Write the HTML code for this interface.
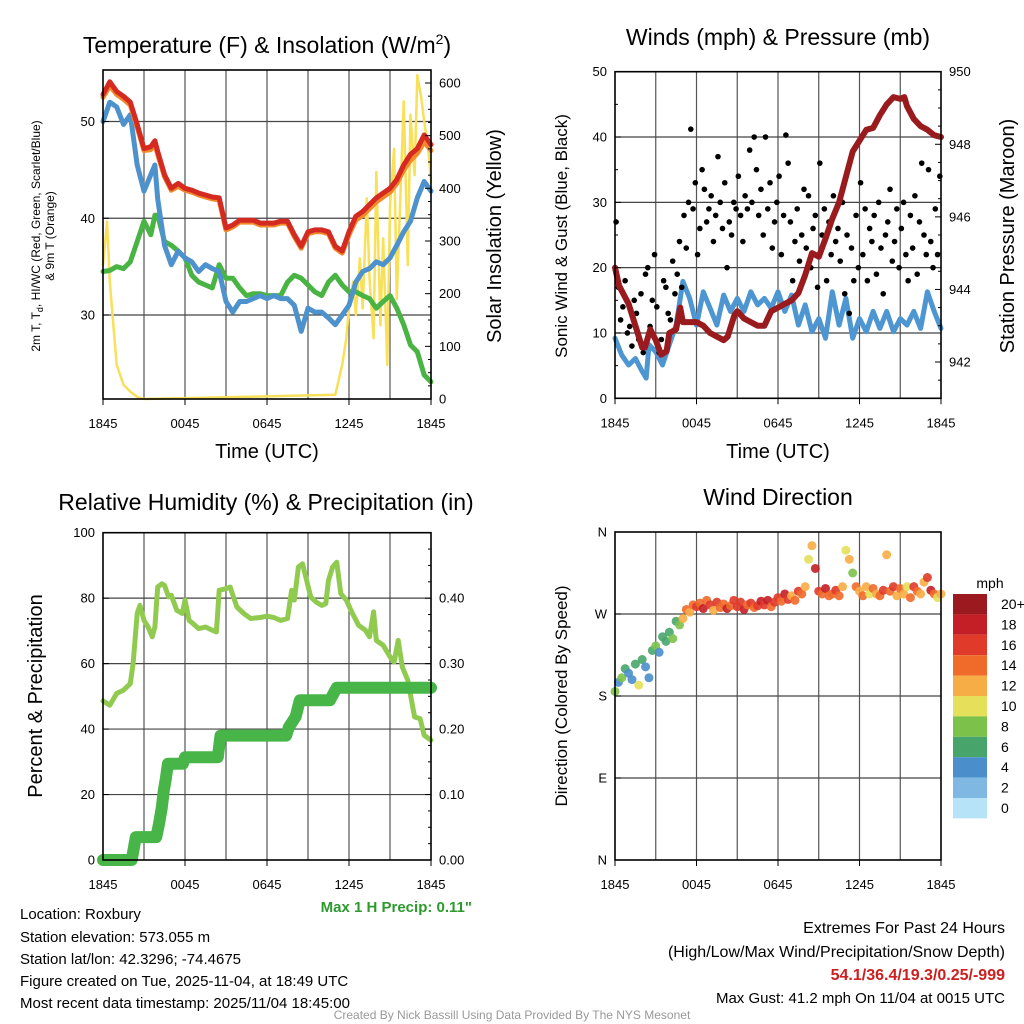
<!DOCTYPE html>
<html><head><meta charset="utf-8"><style>
html,body{margin:0;padding:0;background:#fff;}
svg{display:block;font-family:"Liberation Sans",sans-serif;}
</style></head><body>
<svg id="c" width="1024" height="1024" viewBox="0 0 1024 1024" xmlns="http://www.w3.org/2000/svg">
<g id="layer"></g>
<text x="267" y="53" font-size="23" text-anchor="middle">Temperature (F) &amp; Insolation (W/m<tspan font-size="14" dy="-9">2</tspan><tspan dy="9">)</tspan></text>
<text x="778" y="45" font-size="23" text-anchor="middle">Winds (mph) &amp; Pressure (mb)</text>
<text x="266" y="510" font-size="23" text-anchor="middle">Relative Humidity (%) &amp; Precipitation (in)</text>
<text x="778" y="505" font-size="23" text-anchor="middle">Wind Direction</text>
<text transform="translate(40,236) rotate(-90)" font-size="12" text-anchor="middle">2m T, T<tspan font-size="9" dy="3">d</tspan><tspan dy="-3">, HI/WC (Red, Green, Scarlet/Blue)</tspan></text>
<text transform="translate(54,236) rotate(-90)" font-size="12" text-anchor="middle">&amp; 9m T (Orange)</text>
<text transform="translate(501,236) rotate(-90)" font-size="20" text-anchor="middle">Solar Insolation (Yellow)</text>
<text transform="translate(567,236) rotate(-90)" font-size="17" text-anchor="middle">Sonic Wind &amp; Gust (Blue, Black)</text>
<text transform="translate(1014,236) rotate(-90)" font-size="20" text-anchor="middle">Station Pressure (Maroon)</text>
<text transform="translate(42,696) rotate(-90)" font-size="20" text-anchor="middle">Percent &amp; Precipitation</text>
<text transform="translate(567,696) rotate(-90)" font-size="17" text-anchor="middle">Direction (Colored By Speed)</text>
<text x="267" y="458" font-size="20" text-anchor="middle">Time (UTC)</text>
<text x="778" y="458" font-size="20" text-anchor="middle">Time (UTC)</text>
<text x="472" y="912" font-size="15" font-weight="bold" fill="#2e9a2e" text-anchor="end">Max 1 H Precip: 0.11"</text>
<g font-size="15">
<text x="20" y="919">Location: Roxbury</text>
<text x="20" y="942">Station elevation: 573.055 m</text>
<text x="20" y="964">Station lat/lon: 42.3296; -74.4675</text>
<text x="20" y="986">Figure created on Tue, 2025-11-04, at 18:49 UTC</text>
<text x="20" y="1008">Most recent data timestamp: 2025/11/04 18:45:00</text>
</g>
<g font-size="16" text-anchor="end">
<text x="1005" y="933">Extremes For Past 24 Hours</text>
<text x="1005" y="957">(High/Low/Max Wind/Precipitation/Snow Depth)</text>
<text x="1005" y="980" fill="#cc2020" font-weight="bold">54.1/36.4/19.3/0.25/-999</text>
<text x="1005" y="1003" font-size="15">Max Gust: 41.2 mph On 11/04 at 0015 UTC</text>
</g>
<text x="512" y="1019" font-size="12" fill="#999" text-anchor="middle">Created By Nick Bassill Using Data Provided By The NYS Mesonet</text>
<text x="990" y="588" font-size="14" text-anchor="middle">mph</text>
</svg>
<script>
// ---- Temperature panel data (hours since 1845 UTC) ----
const tT=[0,0.5,1,1.5,2,2.5,3,3.5,3.8,4,4.5,5,5.5,6,6.5,7,7.5,8,8.5,9,9.5,10,10.5,11,11.5,12,12.5,13,13.5,14,14.5,15,15.5,16,16.5,17,17.5,18,18.5,19,19.5,20,20.5,21,21.5,22,22.5,23,23.5,24];
const tempRed=[52.8,54.1,53.1,52.6,52,49.7,47.2,47.4,48,46.9,44.5,43.1,43.6,43.1,42.9,42.6,42.4,42.2,42.1,39,39.3,39.8,39.8,39.8,39.5,39.5,39.5,39.7,39.7,38.3,37.1,38.6,38.8,38.8,38.6,37.1,36.6,38.6,40.2,40.7,41.4,42.1,42.6,43.1,44,45.5,46.6,47.2,48.6,47.6];
const tempOrange=[52.5,53.7,52.8,52.3,51.7,49.4,47.0,47.1,47.7,46.6,44.3,42.9,43.3,42.9,42.7,42.4,42.2,42.0,41.9,38.8,39.1,39.6,39.6,39.6,39.3,39.3,39.3,39.5,39.5,38.1,36.9,38.4,38.6,38.6,38.4,36.9,36.4,38.3,39.8,40.3,41.0,41.7,42.2,42.7,43.6,45.0,46.0,46.7,47.9,47.0];
const tempBlue=[50,52,51.5,49.7,50.7,45.5,42.8,44.5,45.5,42,37.2,35.2,36.6,35.9,35.5,34.5,35.2,34.8,34.5,31.4,30.3,31.4,31.4,31.7,32,31.7,32,31.7,31.7,31,28.3,30.7,30.3,30.3,29.7,29,30,31,33.4,34.5,34.8,35.5,35.2,35.9,37.2,38.6,39.7,42.1,43.8,42.8];
const tempGreen=[34.5,34.6,35,34.8,35.5,37.6,39.7,38.3,40.3,40.3,37.6,37.2,36.6,35.9,34.1,33.4,33.1,32.8,35.2,33.8,33.8,32.8,32,32.2,32.2,32,32,32,33.4,34.1,33.8,33.1,32.4,32,33.4,34.1,33.1,32.4,32.4,32,31.7,30.7,31.4,32,30.7,29,26.9,26.2,23.8,23.1];
const solarT=[0,0.3,0.5,0.8,1,1.5,2,2.5,3,17,17.5,17.8,18,18.3,18.5,18.8,19,19.3,19.5,19.8,20,20.3,20.5,20.8,21,21.3,21.5,21.8,22,22.3,22.5,22.8,23,23.3,23.5,23.8,24];
const solarV=[254,337,223,128,65,27,14,4,0,8,65,115,172,223,160,267,172,381,230,115,431,140,305,65,368,475,190,412,565,254,540,425,615,570,527,475,412];
// ---- Wind panel data ----
const tW=[0,0.5,1,1.5,2,2.3,2.5,3,3.5,4,4.5,5,5.5,6,6.5,7,7.5,8,8.5,9,9.5,10,10.5,11,11.5,12,12.5,13,13.5,14,14.5,15,15.5,16,16.5,17,17.5,18,18.5,19,19.5,20,20.5,21,21.5,22,22.5,23,23.5,24];
const windSpd=[9.2,6.6,5.1,6.1,4.1,3.1,8.2,7.1,5.1,8.2,11.2,17.9,15.3,11.2,16.3,13.8,11.2,15.8,13.3,15.3,13.3,16.3,14.3,15.3,13.8,16.3,13.3,15.8,11.2,14.3,10.2,12.2,9.2,16.3,11.2,15.3,9.2,12.2,10.2,13.3,10.7,13.3,10.2,12.2,11.2,13.3,10.7,16.3,13.3,10.7];
const tP=[0,0.3,1,1.5,2,2.2,2.6,3,3.4,3.8,4,4.5,4.8,5,5.5,6,6.5,7,7.5,8,8.3,8.8,9,9.5,10,10.5,11,11.5,12,12.5,13,13.5,14,14.5,15,15.5,16,16.5,17,17.5,18,18.5,19,19.5,20,20.5,21,21.3,21.5,22,22.5,23,23.5,24];
const pressure=[944.6,944.1,943.6,943,942.4,942.4,942.9,942.6,942.2,942.3,942.8,942.9,943.5,943.1,943.1,943.1,943,942.8,942.7,942.6,942.7,943.3,943.4,943.2,943.1,943,943,943.4,943.5,943.6,943.7,943.9,944.4,945,944.9,945.4,945.95,946.4,947.1,947.8,948.1,948.4,948.45,948.8,949.1,949.3,949.25,949.3,949.05,948.7,948.5,948.4,948.25,948.2];
const gusts=[27,17,12,14,18,10, 11,8,15,13,9,16, 7,19,20,11,15,22, 14,7,9,18,17,13, 12,21,16,19,24,17, 28,23,30,41.2,29,33, 22,26,35,32,27,29, 31,24,28,37,30,26, 33,20,27,25,30,29, 34,28,24,31,29,38, 30,40,35,28,32,25, 40,29,33,23,27,30, 34,22,28,40.3,36,27, 18,24,29,21,25,32, 23,31,20,26,28,17, 36,25,29,18,27,22, 31,24,26,21,30,16, 25,13,23,18,28,20, 33,22,29,18,26,24, 28,19,30,23,16,25, 27,32,21,24,29,20, 26,30,22,18,28,23, 31,19,27,36,25,22, 35,24,20,29,22,34];
// ---- RH / precip data ----
const tRH=[0,0.5,1,1.5,2,2.2,2.5,2.7,3,3.3,3.6,3.8,4,4.3,4.5,4.8,5,5.4,5.8,6,6.3,6.6,7,7.5,8,8.3,8.5,9,9.3,9.8,10.3,10.8,11.5,12,12.5,13,13.5,13.8,14,14.3,14.6,14.9,15.2,15.6,16,16.3,16.5,16.8,17.1,17.4,17.8,18.2,18.7,19.2,19.5,19.8,20,20.5,21,21.3,21.6,21.9,22.3,22.8,23.2,23.5,24];
const rh=[48.6,47.3,50.9,51.9,53.9,60,75.3,77.8,73.2,71.2,68.2,71.2,83.4,84.4,83.9,80.4,80.9,76.3,75.3,79.4,73.2,72.2,70.7,71.2,70.2,69.7,82.4,82.9,83.4,77.3,75.3,73.8,74.1,74.5,74.1,73.2,73.8,82.4,79.4,89.5,90.5,85.5,80.4,78.8,77.8,78.3,85.5,89.5,91,81.4,79.4,75.8,71.7,70.2,68.2,75.8,67.1,65.6,62.1,60.5,67.1,59,54.9,43.7,43.2,38.1,36.6];
const tPr=[0,2.1,2.4,3.9,4.1,4.3,4.45,4.6,4.75,5.85,6,8.4,8.6,13.4,13.6,14.1,14.4,16.6,17.1,24];
const precip=[0,0,0.035,0.035,0.055,0.08,0.106,0.125,0.147,0.147,0.157,0.157,0.19,0.19,0.203,0.219,0.244,0.244,0.263,0.263];
// ---- Wind direction data (every 15 min) ----
const wdir=[185,195,200,210,205,198,215,192,220,212,200,230,235,228,245,240,250,243,262,258,265,275,272,280,278,282,276,285,280,274,283,277,281,276,279,285,278,283,275,280,282,277,279,284,280,285,278,283,288,284,292,286,290,285,295,292,300,330,345,320,295,292,298,290,292,296,290,300,340,330,315,300,295,290,300,292,298,292,290,296,335,295,300,290,298,292,300,288,300,295,292,305,310,296,292,288,292];
const wspd=[8,5,9,6,5,4,7,10,6,4,5,7,8,5,7,6,7,8,6,8,13,14,12,15,16,14,18,15,17,13,16,14,15,18,14,16,17,16,18,15,16,14,17,18,17,18,15,16,17,14,18,16,12,15,17,14,12,10,13,18,16,14,18,15,14,17,15,12,10,12,8,15,12,15,13,10,14,12,15,16,12,14,16,13,15,12,10,14,16,14,12,13,17,18,14,10,12];
const cbLabels=["20+","18","16","14","12","10","8","6","4","2","0"];
const cbColors=["#9a1a1f","#c41f26","#e03a2a","#f06a2a","#f7ad45","#e4e05a","#7cc24a","#47a56b","#4a8ecb","#7fb9e3","#b6e3f7"];
const xTicks=["1845","0045","0645","1245","1845"];

const NS="http://www.w3.org/2000/svg";
const L=document.getElementById('layer');
function mk(tag,at,parent){const e=document.createElementNS(NS,tag);for(const k in at)e.setAttribute(k,at[k]);(parent||L).appendChild(e);return e;}
function lin(d0,d1,r0,r1){return v=>r0+(v-d0)*(r1-r0)/(d1-d0);}
function pts(xs,ys,fx,fy){return xs.map((t,i)=>fx(t).toFixed(1)+','+fy(ys[i]).toFixed(1)).join(' ');}

function frame(x0,x1,y0,y1,name,hlines,fy){
  const g=mk('g',{});
  
  
  const fx=lin(0,24,x0,x1);
  for(let h=3;h<24;h+=3){mk('line',{x1:fx(h),x2:fx(h),y1:y0,y2:y1,stroke:'#555','stroke-width':1.2},g);}
  hlines.forEach(v=>mk('line',{x1:x0,x2:x1,y1:fy(v),y2:fy(v),stroke:'#444','stroke-width':1.2},g));
  const xt=mk('g',{'font-size':13,'text-anchor':'middle'});
  
  
  xTicks.forEach((s,i)=>{const x=fx(i*6);mk('line',{x1:x,x2:x,y1:y1,y2:y1+6,stroke:'#000'},xt);const t=mk('text',{x:x,y:y1+29},xt);t.textContent=s;});
  return fx;
}
function border(x0,x1,y0,y1,name){const r=mk('rect',{x:x0,y:y0,width:x1-x0,height:y1-y0,fill:'none',stroke:'#000','stroke-width':1.6});}
function yTicks(vals,labels,fy,x,side,name,minor){
  const g=mk('g',{'font-size':13,'text-anchor':side<0?'end':'start'});
  
  
  vals.forEach((v,i)=>{const y=fy(v);mk('line',{x1:x,x2:x-side*6,y1:y,y2:y,stroke:'#000'},g);const t=mk('text',{x:x+side*8,y:y+4.5},g);t.textContent=labels[i];});
  (minor||[]).forEach(v=>{const y=fy(v);mk('line',{x1:x,x2:x-side*3,y1:y,y2:y,stroke:'#000'},g);});
}
function line(xs,ys,fx,fy,color,w,name){const p=mk('polyline',{points:pts(xs,ys,fx,fy),fill:'none',stroke:color,'stroke-width':w,'stroke-linejoin':'round','stroke-linecap':'round'});return p;}

// Panel 1
(function(){
  const x0=103,x1=431,y0=70,y1=399;
  const fy=lin(30,50,315,121.5), fs=lin(0,600,399,83);
  const fx=frame(x0,x1,y0,y1,'temp',[30,40,50],fy);
  line(solarT,solarV,fx,fs,'#f8e05a',2.5,'solar-line');
  line(tT,tempGreen,fx,fy,'#49b443',5,'heat-index-line');
  line(tT,tempBlue,fx,fy,'#4d92cc',5,'dewpoint-line');
  line(tT,tempOrange,fx,fy,'#f08a2a',5,'temp-9m-line');
  line(tT,tempRed,fx,fy,'#d42a22',5,'temp-2m-line');
  border(x0,x1,y0,y1,'temp');
  yTicks([30,40,50],['30','40','50'],fy,x0,-1,'temp-y-ticks');
  const mi=[];for(let v=25;v<=600;v+=25)if(v%100)mi.push(v);
  yTicks([0,100,200,300,400,500,600],['0','100','200','300','400','500','600'],fs,x1,1,'solar-y-ticks',mi);
})();
// Panel 2
(function(){
  const x0=615,x1=941,y0=71.7,y1=398.3;
  const fy=lin(0,50,y1,y0), fp=lin(941,950,y1,y0);
  const fx=frame(x0,x1,y0,y1,'wind',[10,20,30,40],fy);
  line(tW,windSpd,fx,fy,'#4d96d2',5,'wind-speed-line');
  const g=mk('g',{});
  
  
  gusts.forEach((v,i)=>{const c=mk('circle',{cx:fx(i*24/gusts.length+0.08),cy:fy(v),r:2.8,fill:'#000'},g);
    
    });
  line(tP,pressure,fx,fp,'#9a1b1e',6,'pressure-line');
  border(x0,x1,y0,y1,'wind');
  yTicks([0,10,20,30,40,50],['0','10','20','30','40','50'],fy,x0,-1,'wind-y-ticks',[5,15,25,35,45]);
  const mi=[];for(let v=941.5;v<950;v+=0.5)if(v%2)mi.push(v);
  yTicks([942,944,946,948,950],['942','944','946','948','950'],fp,x1,1,'pressure-y-ticks',mi);
})();
// Panel 3
(function(){
  const x0=103,x1=431,y0=532.7,y1=860;
  const fy=lin(0,100,y1,y0), fr=lin(0,0.5,y1,y0);
  const fx=frame(x0,x1,y0,y1,'rh',[20,40,60,80],fy);
  line(tRH,rh,fx,fy,'#90cb50',5,'rh-line');
  line(tPr,precip,fx,fr,'#48b548',12,'precip-line');
  border(x0,x1,y0,y1,'rh');
  yTicks([0,20,40,60,80,100],['0','20','40','60','80','100'],fy,x0,-1,'rh-y-ticks');
  const mi=[];for(let v=0.025;v<0.5;v+=0.025)if(Math.abs(v*10-Math.round(v*10))>0.01)mi.push(v);
  yTicks([0,0.1,0.2,0.3,0.4],['0.00','0.10','0.20','0.30','0.40'],fr,x1,1,'precip-y-ticks',mi);
})();
// Panel 4
(function(){
  const x0=615,x1=941,y0=532,y1=860;
  const fy=lin(0,360,y1,y0);
  const fx=frame(x0,x1,y0,y1,'wdir',[90,180,270],fy);
  const g=mk('g',{});
  
  
  wdir.forEach((d,i)=>{const s=wspd[i];const idx=Math.max(0,Math.min(10,10-Math.floor(s/2)));
    const c=mk('circle',{cx:fx(i*0.25),cy:fy(d),r:4.5,fill:cbColors[idx],'fill-opacity':0.9},g);
    
    });
  border(x0,x1,y0,y1,'wdir');
  yTicks([0,90,180,270,360],['N','E','S','W','N'],fy,x0,-1,'wdir-y-ticks');
  const cb=mk('g',{'font-size':14});
  
  
  cbLabels.forEach((s,i)=>{const y=594+i*20.4;mk('rect',{x:953,y:y,width:34,height:20.4,fill:cbColors[i]},cb);const t=mk('text',{x:1001,y:y+15},cb);t.textContent=s;});
})();
</script>
</body></html>
